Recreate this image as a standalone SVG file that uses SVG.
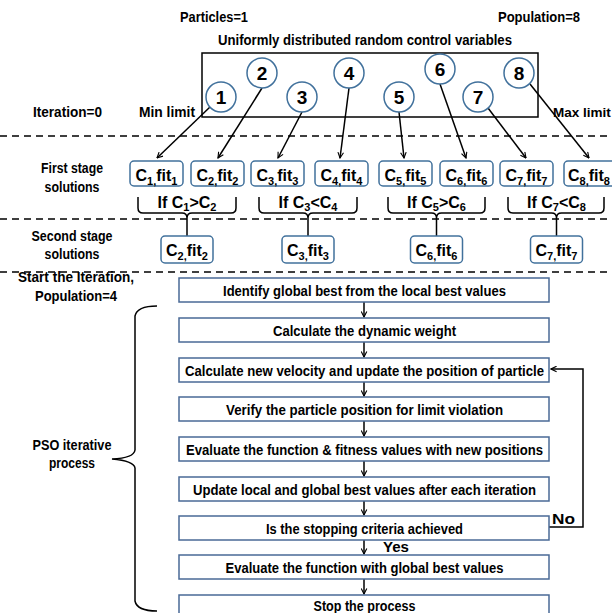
<svg xmlns="http://www.w3.org/2000/svg" width="612" height="613" viewBox="0 0 612 613">
<defs>
<style>
text{font-family:"Liberation Sans",Arial,sans-serif;font-weight:bold;fill:#000}
.lbl{font-size:15px}
.c{text-anchor:middle}
.num{font-size:19px;text-anchor:middle}
.cb{font-size:16px;text-anchor:middle}
.br{font-size:16px;text-anchor:middle}
.ft{font-size:15px;text-anchor:middle}
.circ{fill:#fff;stroke:#41719c;stroke-width:1.5}
.rbox{fill:#fff;stroke:#41719c;stroke-width:1.5}
.fbox{fill:#fff;stroke:#4a6a96;stroke-width:1.5}
.dash{stroke:#000;stroke-width:1.3;stroke-dasharray:7 5;fill:none}
.ln{stroke:#000;stroke-width:1.5;fill:none}
.arr{stroke:#000;stroke-width:1.5;fill:none;marker-end:url(#ah)}
</style>
<marker id="ah" viewBox="0 0 10 10" refX="9" refY="5" markerWidth="7" markerHeight="7" orient="auto" markerUnits="userSpaceOnUse">
<path d="M1,1 L9,5 L1,9" fill="none" stroke="#000" stroke-width="1.6"/>
</marker>
</defs>

<g id="labels">
<text class="lbl c" x="214" y="22" textLength="68" lengthAdjust="spacingAndGlyphs">Particles=1</text>
<text class="lbl c" x="539" y="22" textLength="82" lengthAdjust="spacingAndGlyphs">Population=8</text>
<text class="lbl c" x="365" y="45" textLength="294" lengthAdjust="spacingAndGlyphs">Uniformly distributed random control variables</text>
<text class="lbl" x="33" y="117" textLength="69" lengthAdjust="spacingAndGlyphs">Iteration=0</text>
<text class="lbl" x="139" y="117" textLength="56" lengthAdjust="spacingAndGlyphs">Min limit</text>
<text x="553" y="117" font-size="13.5">Max limit</text>
<text class="lbl c" x="72" y="173" textLength="62" lengthAdjust="spacingAndGlyphs">First stage</text>
<text class="lbl c" x="72" y="192" textLength="55" lengthAdjust="spacingAndGlyphs">solutions</text>
<text class="lbl c" x="72" y="241" textLength="81" lengthAdjust="spacingAndGlyphs">Second stage</text>
<text class="lbl c" x="72" y="259" textLength="55" lengthAdjust="spacingAndGlyphs">solutions</text>
<text class="lbl c" x="76" y="282" textLength="116" lengthAdjust="spacingAndGlyphs">Start the Iteration,</text>
<text class="lbl c" x="76" y="301" textLength="82" lengthAdjust="spacingAndGlyphs">Population=4</text>
<text class="lbl c" x="72" y="450" textLength="79" lengthAdjust="spacingAndGlyphs">PSO iterative</text>
<text class="lbl c" x="72" y="468" textLength="46" lengthAdjust="spacingAndGlyphs">process</text>
<text class="lbl" x="552" y="524" textLength="23" lengthAdjust="spacingAndGlyphs">No</text>
<text class="lbl" x="383" y="552" textLength="26" lengthAdjust="spacingAndGlyphs">Yes</text>
</g>

<g id="separators">
<line class="dash" x1="0" y1="136" x2="612" y2="136"/>
<line class="dash" x1="0" y1="219" x2="612" y2="219"/>
<line class="dash" x1="0" y1="272" x2="612" y2="272"/>
</g>

<g id="population-box">
<rect x="202" y="53" width="336" height="64" fill="none" stroke="#000" stroke-width="1.5"/>
</g>

<g id="connectors">
<line class="arr" x1="210" y1="107" x2="157" y2="158"/>
<line class="arr" x1="262" y1="88" x2="218" y2="158"/>
<line class="arr" x1="302" y1="112" x2="278" y2="158"/>
<line class="arr" x1="349" y1="88" x2="340" y2="158"/>
<line class="arr" x1="399" y1="112" x2="404" y2="158"/>
<line class="arr" x1="440" y1="84" x2="466" y2="158"/>
<line class="arr" x1="488" y1="108" x2="526" y2="158"/>
<line class="arr" x1="530" y1="84" x2="589" y2="158"/>
<path class="ln" d="M138,197 V208 Q138,213 143,213 H182 Q187,213 187,218 Q187,213 192,213 H231 Q236,213 236,208 V197 M187,218 V236"/>
<path class="ln" d="M259,197 V208 Q259,213 264,213 H303 Q308,213 308,218 Q308,213 313,213 H352 Q357,213 357,208 V197 M308,218 V236"/>
<path class="ln" d="M388,197 V208 Q388,213 393,213 H431.5 Q436.5,213 436.5,218 Q436.5,213 441.5,213 H480 Q485,213 485,208 V197 M436.5,218 V236"/>
<path class="ln" d="M508,197 V208 Q508,213 513,213 H551.5 Q556.5,213 556.5,218 Q556.5,213 561.5,213 H599 Q604,213 604,208 V197 M556.5,218 V236"/>
<line class="arr" x1="364" y1="302" x2="364" y2="317"/>
<line class="arr" x1="364" y1="342" x2="364" y2="357"/>
<line class="arr" x1="364" y1="382" x2="364" y2="396"/>
<line class="arr" x1="364" y1="421" x2="364" y2="436"/>
<line class="arr" x1="364" y1="461" x2="364" y2="476"/>
<line class="arr" x1="364" y1="501" x2="364" y2="515"/>
<line class="arr" x1="364" y1="540" x2="364" y2="554"/>
<line class="arr" x1="364" y1="579" x2="364" y2="594"/>
<path class="arr" d="M549,527 H583 V369 H551"/>
<path class="ln" d="M157,306 Q137,306 135,316 V450 Q134,458 112,459 Q134,461 135,468 V601 Q137,611 157,611"/>
</g>

<g id="circles">
<g id="n1"><circle class="circ" cx="221" cy="97" r="15"/><text class="num" x="221" y="104">1</text></g>
<g id="n2"><circle class="circ" cx="262" cy="73" r="15"/><text class="num" x="262" y="80">2</text></g>
<g id="n3"><circle class="circ" cx="302" cy="97" r="15"/><text class="num" x="302" y="104">3</text></g>
<g id="n4"><circle class="circ" cx="349" cy="73" r="15"/><text class="num" x="349" y="80">4</text></g>
<g id="n5"><circle class="circ" cx="399" cy="97" r="15"/><text class="num" x="399" y="104">5</text></g>
<g id="n6"><circle class="circ" cx="440" cy="69" r="15"/><text class="num" x="440" y="76">6</text></g>
<g id="n7"><circle class="circ" cx="478" cy="97" r="15"/><text class="num" x="478" y="104">7</text></g>
<g id="n8"><circle class="circ" cx="519" cy="73" r="15"/><text class="num" x="519" y="80">8</text></g>
</g>

<g id="first-stage">
<g id="f1"><rect class="rbox" x="130" y="161" width="53" height="25" rx="4"/><text class="cb" x="156.5" y="181">C<tspan font-size="11" dy="4">1,</tspan><tspan dy="-4">fit</tspan><tspan font-size="11" dy="4">1</tspan></text></g>
<g id="f2"><rect class="rbox" x="191" y="161" width="53" height="25" rx="4"/><text class="cb" x="217.5" y="181">C<tspan font-size="11" dy="4">2,</tspan><tspan dy="-4">fit</tspan><tspan font-size="11" dy="4">2</tspan></text></g>
<g id="f3"><rect class="rbox" x="251" y="161" width="53" height="25" rx="4"/><text class="cb" x="277.5" y="181">C<tspan font-size="11" dy="4">3,</tspan><tspan dy="-4">fit</tspan><tspan font-size="11" dy="4">3</tspan></text></g>
<g id="f4"><rect class="rbox" x="315" y="161" width="53" height="25" rx="4"/><text class="cb" x="341.5" y="181">C<tspan font-size="11" dy="4">4,</tspan><tspan dy="-4">fit</tspan><tspan font-size="11" dy="4">4</tspan></text></g>
<g id="f5"><rect class="rbox" x="379" y="161" width="53" height="25" rx="4"/><text class="cb" x="405.5" y="181">C<tspan font-size="11" dy="4">5,</tspan><tspan dy="-4">fit</tspan><tspan font-size="11" dy="4">5</tspan></text></g>
<g id="f6"><rect class="rbox" x="440" y="161" width="53" height="25" rx="4"/><text class="cb" x="466.5" y="181">C<tspan font-size="11" dy="4">6,</tspan><tspan dy="-4">fit</tspan><tspan font-size="11" dy="4">6</tspan></text></g>
<g id="f7"><rect class="rbox" x="500" y="161" width="53" height="25" rx="4"/><text class="cb" x="526.5" y="181">C<tspan font-size="11" dy="4">7,</tspan><tspan dy="-4">fit</tspan><tspan font-size="11" dy="4">7</tspan></text></g>
<g id="f8"><rect class="rbox" x="564" y="161" width="53" height="25" rx="4"/><text class="cb" x="589" y="181">C<tspan font-size="11" dy="4">8,</tspan><tspan dy="-4">fit</tspan><tspan font-size="11" dy="4">8</tspan></text></g>
</g>

<g id="conditions">
<text class="br" x="187" y="208">If C<tspan font-size="11" dy="3">1</tspan><tspan dy="-3">&gt;C</tspan><tspan font-size="11" dy="3">2</tspan></text>
<text class="br" x="308" y="208">If C<tspan font-size="11" dy="3">3</tspan><tspan dy="-3">&lt;C</tspan><tspan font-size="11" dy="3">4</tspan></text>
<text class="br" x="436.5" y="208">If C<tspan font-size="11" dy="3">5</tspan><tspan dy="-3">&gt;C</tspan><tspan font-size="11" dy="3">6</tspan></text>
<text class="br" x="556.5" y="208">If C<tspan font-size="11" dy="3">7</tspan><tspan dy="-3">&lt;C</tspan><tspan font-size="11" dy="3">8</tspan></text>
</g>

<g id="second-stage">
<g id="s2"><rect class="rbox" x="161" y="236" width="52" height="27" rx="4"/><text class="cb" x="187" y="256">C<tspan font-size="11" dy="4">2,</tspan><tspan dy="-4">fit</tspan><tspan font-size="11" dy="4">2</tspan></text></g>
<g id="s3"><rect class="rbox" x="282" y="236" width="52" height="27" rx="4"/><text class="cb" x="308" y="256">C<tspan font-size="11" dy="4">3,</tspan><tspan dy="-4">fit</tspan><tspan font-size="11" dy="4">3</tspan></text></g>
<g id="s6"><rect class="rbox" x="410.5" y="236" width="52" height="27" rx="4"/><text class="cb" x="436.5" y="256">C<tspan font-size="11" dy="4">6,</tspan><tspan dy="-4">fit</tspan><tspan font-size="11" dy="4">6</tspan></text></g>
<g id="s7"><rect class="rbox" x="530.5" y="236" width="52" height="27" rx="4"/><text class="cb" x="556.5" y="256">C<tspan font-size="11" dy="4">7,</tspan><tspan dy="-4">fit</tspan><tspan font-size="11" dy="4">7</tspan></text></g>
</g>

<g id="pso-steps">
<g id="p1"><rect class="fbox" x="179" y="278" width="370" height="24"/><text class="ft" x="364.5" y="295.5" textLength="283" lengthAdjust="spacingAndGlyphs">Identify global best from the local best values</text></g>
<g id="p2"><rect class="fbox" x="179" y="318" width="370" height="24"/><text class="ft" x="364.5" y="335.5" textLength="183" lengthAdjust="spacingAndGlyphs">Calculate the dynamic weight</text></g>
<g id="p3"><rect class="fbox" x="179" y="358" width="370" height="24"/><text class="ft" x="364.5" y="375.5" textLength="359" lengthAdjust="spacingAndGlyphs">Calculate new velocity and update the position of particle</text></g>
<g id="p4"><rect class="fbox" x="179" y="397" width="370" height="24"/><text class="ft" x="364.5" y="414.5" textLength="277" lengthAdjust="spacingAndGlyphs">Verify the particle position for limit violation</text></g>
<g id="p5"><rect class="fbox" x="179" y="437" width="370" height="24"/><text class="ft" x="364.5" y="454.5" textLength="357" lengthAdjust="spacingAndGlyphs">Evaluate the function &amp; fitness values with new positions</text></g>
<g id="p6"><rect class="fbox" x="179" y="477" width="370" height="24"/><text class="ft" x="364.5" y="494.5" textLength="343" lengthAdjust="spacingAndGlyphs">Update local and global best values after each iteration</text></g>
<g id="p7"><rect class="fbox" x="179" y="516" width="370" height="24"/><text class="ft" x="364.5" y="533.5" textLength="197" lengthAdjust="spacingAndGlyphs">Is the stopping criteria achieved</text></g>
<g id="p8"><rect class="fbox" x="179" y="555" width="370" height="24"/><text class="ft" x="364.5" y="572.5" textLength="278" lengthAdjust="spacingAndGlyphs">Evaluate the function with global best values</text></g>
<g id="p9"><rect class="fbox" x="179" y="595" width="370" height="24"/><text class="ft" x="364.5" y="611" textLength="102" lengthAdjust="spacingAndGlyphs">Stop the process</text></g>
</g>
</svg>
